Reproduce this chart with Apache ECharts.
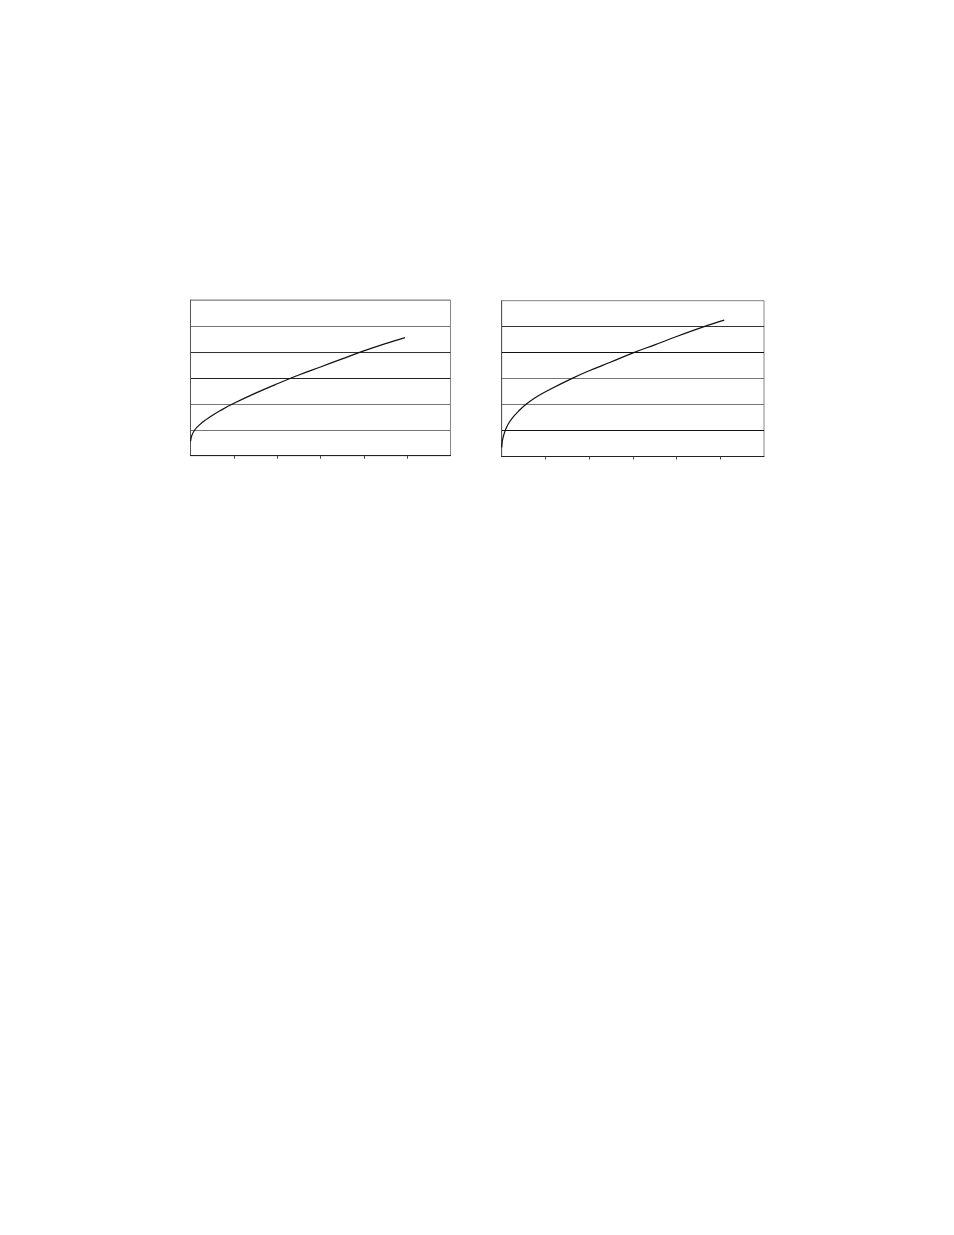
<!DOCTYPE html>
<html>
<head>
<meta charset="utf-8">
<script src="https://cdn.jsdelivr.net/npm/echarts@6/dist/echarts.min.js"></script>
<style>
html,body{margin:0;padding:0;background:#fff;}
#chart{width:954px;height:1235px;}
</style>
</head>
<body>
<div id="chart"></div>
<script>
// Left panel curve (x, y)
var leftX = [0, 0.03, 0.1, 0.2, 0.35, 0.5, 0.7, 0.98, 1.5, 2.0, 2.5, 3.0, 3.5, 4.0, 4.5, 4.95];
var leftY = [0.55, 0.78, 1.0, 1.18, 1.38, 1.55, 1.75, 2.0, 2.41, 2.77, 3.11, 3.42, 3.73, 4.04, 4.32, 4.55];
// Right panel curve (x, y)
var rightX = [0, 0.02, 0.08, 0.15, 0.25, 0.4, 0.55, 0.8, 1.1, 1.6, 2.0, 2.5, 3.02, 3.5, 4.0, 4.63, 5.09];
var rightY = [0.35, 0.65, 1.0, 1.25, 1.5, 1.77, 2.0, 2.3, 2.58, 3.0, 3.3, 3.64, 4.0, 4.3, 4.62, 5.0, 5.25];
// Axis ranges and tick positions
var xMin = 0, xMax = 6, xStep = 1;
var yMin = 0, yMax = 6, yStep = 1;
var xTickValues = [1, 2, 3, 4, 5];

function pairs(xs, ys){ return xs.map(function(x,i){ return [x, ys[i]]; }); }

var chart = echarts.init(document.getElementById('chart'), null, {renderer:'canvas'});

function xAxisCfg(gi){
  return {
    type:'value', gridIndex:gi, min:xMin, max:xMax, interval:xStep,
    axisLine:{show:true, lineStyle:{color:'#222', width:1}},
    axisTick:{show:true, length:3, customValues:xTickValues, lineStyle:{color:'#444', width:1}},
    axisLabel:{show:false},
    splitLine:{show:false}
  };
}
function yAxisCfg(gi, colors){
  return {
    type:'value', gridIndex:gi, min:yMin, max:yMax, interval:yStep,
    axisLine:{show:true, lineStyle:{color:'#555', width:1}},
    axisTick:{show:false},
    axisLabel:{show:false},
    splitLine:{show:true, lineStyle:{color:colors, width:1}}
  };
}

chart.setOption({
  animation:false,
  backgroundColor:'#fff',
  grid:[
    {left:190.5, top:300, width:260, height:155.7, show:true, borderColor:'#888', borderWidth:1, backgroundColor:'transparent'},
    {left:501.7, top:300.7, width:262.3, height:155.8, show:true, borderColor:'#888', borderWidth:1, backgroundColor:'transparent'}
  ],
  xAxis:[xAxisCfg(0), xAxisCfg(1)],
  yAxis:[
    yAxisCfg(0, ['#222','#777','#777','#222','#333','#777','#999']),
    yAxisCfg(1, ['#222','#111','#777','#777','#111','#333','#999'])
  ],
  series:[
    {type:'line', xAxisIndex:0, yAxisIndex:0, data:pairs(leftX,leftY), smooth:0.4, showSymbol:false,
     lineStyle:{color:'#111', width:1.2}},
    {type:'line', xAxisIndex:1, yAxisIndex:1, data:pairs(rightX,rightY), smooth:0.4, showSymbol:false,
     lineStyle:{color:'#111', width:1.2}}
  ]
});
</script>
</body>
</html>
